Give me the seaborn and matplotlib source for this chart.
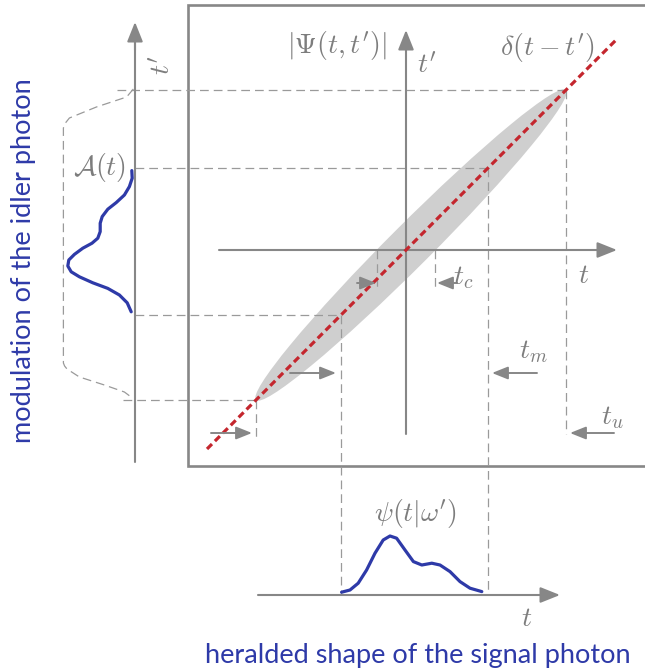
import numpy as np
import pandas as pd
import matplotlib
matplotlib.use("Agg")
import matplotlib.pyplot as plt
from matplotlib.patches import Ellipse
import seaborn as sns

# diagram units: origin where the inner t and t' axes cross
t_lower, t_upper = -7.5, 8.0        # edges of the joint amplitude
mod_lower, mod_upper = -3.25, 4.1   # modulation window t_m
t_coh = 1.45                        # half width t_c

# idler modulation A(t), drawn along t'
amod_tp = [3.97, 3.59, 3.17, 2.75, 2.37, 2.04, 1.67, 1.34, 0.92, 0.59, 0.34,
           0.09, -0.22, -0.5, -0.8, -1.09, -1.34, -1.64, -1.92, -2.25,
           -2.64, -3.09]
amod_val = [0.16, 0.14, 0.28, 0.53, 0.94, 1.36, 1.64, 1.74, 1.74, 1.86, 2.15,
            2.61, 3.03, 3.31, 3.36, 3.19, 2.78, 2.11, 1.36, 0.78, 0.39, 0.19]

# unmodulated idler envelope (dashed)
env_tp = [8.05, 7.65, 7.15, 6.6, 6.3, 6.1, -5.65, -5.8, -5.95, -6.35, -6.75,
          -7.1, -7.4]
env_val = [0.08, 0.42, 1.93, 3.28, 3.52, 3.58, 3.58, 3.52, 3.4, 2.78, 1.53,
           0.53, 0.13]

# heralded signal shape psi(t|w')
psi_t = [-3.22, -2.8, -2.39, -1.97, -1.55, -1.14, -0.8, -0.47, -0.05, 0.37,
         0.79, 1.29, 1.7, 2.2, 2.7, 3.2, 3.79]
psi_val = [0.14, 0.25, 0.59, 1.25, 2.09, 2.75, 2.95, 2.84, 2.25, 1.67,
           1.5, 1.59, 1.5, 1.17, 0.67, 0.34, 0.17]

GREY = "#878787"
LGREY = "#9a9a9a"
TXT = "#7d7d7d"
BLUE = "#2e3aa8"
RED = "#c4262e"

sns.set_theme(style="white")
plt.rcParams["font.family"] = ["Lato", "DejaVu Sans"]
plt.rcParams["mathtext.fontset"] = "cm"

fig = plt.figure(figsize=(6.45, 6.72), dpi=100)
ax = fig.add_axes([0, 0, 1, 1])
ax.set_xlim(-20.3, 11.95)
ax.set_ylim(-21.1, 12.5)
ax.axis("off")

left_ax = -13.55    # x of the idler t' axis
bot_ax = -17.25     # y of the signal t axis

def arrow(x0, y0, x1, y1, lw=1.5, hl=1.0, hw=0.4):
    ax.annotate("", xy=(x1, y1), xytext=(x0, y0),
                arrowprops=dict(arrowstyle=f"-|>,head_length={hl},head_width={hw}",
                                color=GREY, lw=lw, shrinkA=0, shrinkB=0))

dash = dict(color=LGREY, lw=0.9, ls=(0, (7, 4)))

# frame (open on the right)
ax.plot([12.5, -10.9, -10.9, 12.5], [12.25, 12.25, -10.8, -10.8],
        color=GREY, lw=1.9, solid_joinstyle="miter")

# joint temporal amplitude
ax.add_patch(Ellipse(((t_lower + t_upper) / 2, (t_lower + t_upper) / 2),
                     width=(t_upper - t_lower) * np.sqrt(2), height=2.1,
                     angle=45, color="#cfcfcf", lw=0, zorder=1))

# inner axes
arrow(-9.35, 0, 10.55, 0)
arrow(0, -9.2, 0, 11.0)

# guide lines
ax.plot([-14.45, t_upper], [t_upper, t_upper], **dash)
ax.plot([left_ax, mod_upper], [mod_upper, mod_upper], **dash)
ax.plot([left_ax, mod_lower], [mod_lower, mod_lower], **dash)
ax.plot([-14.15, t_lower], [t_lower, t_lower], **dash)
ax.plot([t_upper, t_upper], [t_upper, -9.2], **dash)
ax.plot([t_lower, t_lower], [t_lower, -9.5], **dash)
ax.plot([mod_upper, mod_upper], [mod_upper, bot_ax], **dash)
ax.plot([mod_lower, mod_lower], [mod_lower, bot_ax], **dash)
ax.plot([-t_coh, -t_coh], [0, -1.95], **dash)
ax.plot([t_coh, t_coh], [0, -1.95], **dash)

# delta line
ax.plot([-9.95, 10.5], [-9.95, 10.5], color=RED, lw=2.3, ls=(0, (2.2, 1.3)), zorder=3)

# window arrows
arrow(t_lower - 2.25, -9.15, t_lower - 0.2, -9.15, lw=1.4, hl=0.8, hw=0.32)
arrow(mod_lower - 2.55, -6.15, mod_lower - 0.25, -6.15, lw=1.4, hl=0.8, hw=0.32)
arrow(mod_upper + 2.45, -6.15, mod_upper + 0.2, -6.15, lw=1.4, hl=0.8, hw=0.32)
arrow(t_upper + 2.4, -9.15, t_upper + 0.2, -9.15, lw=1.4, hl=0.8, hw=0.32)
arrow(-t_coh - 1.0, -1.65, -t_coh - 0.05, -1.65, lw=1.4, hl=0.8, hw=0.32)
arrow(t_coh + 1.1, -1.65, t_coh + 0.1, -1.65, lw=1.4, hl=0.8, hw=0.32)

# idler side
ax.plot([left_ax, left_ax], [-10.6, 11.0], color=GREY, lw=1.5)
arrow(left_ax, 10.0, left_ax, 11.4)
env = pd.DataFrame({"x": left_ax - np.array(env_val), "y": env_tp})
sns.lineplot(data=env, x="x", y="y", sort=False, estimator=None, ax=ax,
             color=LGREY, lw=0.9, ls=(0, (7, 4)), legend=False)
amod = pd.DataFrame({"x": left_ax - np.array(amod_val), "y": amod_tp})
sns.lineplot(data=amod, x="x", y="y", sort=False, estimator=None, ax=ax,
             color=BLUE, lw=2.3, legend=False, solid_joinstyle="round",
             solid_capstyle="round")

# signal side
arrow(-7.4, bot_ax, 7.7, bot_ax)
psi = pd.DataFrame({"x": psi_t, "y": bot_ax + np.array(psi_val)})
sns.lineplot(data=psi, x="x", y="y", sort=False, estimator=None, ax=ax,
             color=BLUE, lw=2.3, legend=False, solid_joinstyle="round",
             solid_capstyle="round")

# labels
ms = 20
ax.text(-3.45, 10.25, r"$|\Psi(t,t')|$", fontsize=ms, color=TXT, ha="center", va="center")
ax.text(1.05, 9.25, r"$t'$", fontsize=ms, color=TXT, ha="center", va="center")
ax.text(7.05, 10.15, r"$\delta(t-t')$", fontsize=ms, color=TXT, ha="center", va="center")
ax.text(8.9, -1.25, r"$t$", fontsize=ms, color=TXT, ha="center", va="center")
ax.text(2.85, -1.4, r"$t_c$", fontsize=ms, color=TXT, ha="center", va="center")
ax.text(6.35, -5.1, r"$t_m$", fontsize=ms, color=TXT, ha="center", va="center")
ax.text(10.3, -8.4, r"$t_u$", fontsize=ms, color=TXT, ha="center", va="center")
ax.text(-15.3, 4.15, r"$\mathcal{A}(t)$", fontsize=ms, color=TXT, ha="center", va="center")
ax.text(-12.2, 9.25, r"$t'$", fontsize=ms, color=TXT, ha="center", va="center", rotation=90)
ax.text(0.45, -13.15, r"$\psi(t|\omega')$", fontsize=ms, color=TXT, ha="center", va="center")
ax.text(6.05, -18.4, r"$t$", fontsize=ms, color=TXT, ha="center", va="center")

ax.text(0.6, -20.25, "heralded shape of the signal photon", fontsize=19.5,
        color=BLUE, ha="center", va="center")
ax.text(-19.1, -0.55, "modulation of the idler photon", fontsize=19.5,
        color=BLUE, ha="center", va="center", rotation=90)

fig.savefig("out.png", dpi=100)
